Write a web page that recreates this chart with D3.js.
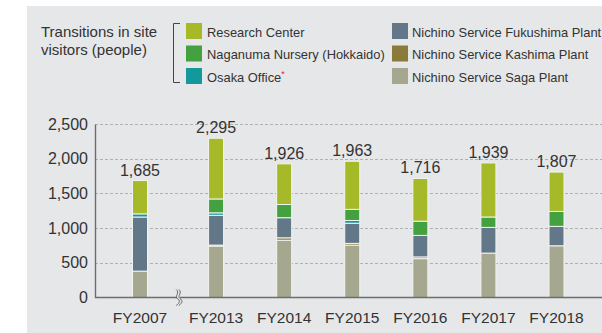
<!DOCTYPE html>
<html>
<head>
<meta charset="utf-8">
<script src="https://cdn.jsdelivr.net/npm/d3@7"></script>
<style>
  html, body { margin: 0; padding: 0; background: #fff; }
  svg { display: block; font-family: "Liberation Sans", Arial, Helvetica, sans-serif; }
</style>
</head>
<body>
<svg id="chart" width="602" height="333"></svg>
<script>
// Site visitors per fiscal year, stacked by site (bottom to top)
const categories = ["FY2007", "FY2013", "FY2014", "FY2015", "FY2016", "FY2017", "FY2018"];
const saga       = [380, 740, 825, 755, 560, 640, 745];
const kashima    = [0,   15,  35,  25,  25,  0,   0];
const fukushima  = [780, 430, 290, 290, 310, 370, 280];
const osaka      = [45,  35,  0,   40,  0,   0,   0];
const naganuma   = [0,   200, 190, 160, 205, 150, 215];
const research   = [480, 875, 586, 693, 616, 779, 567];
const yTicks     = [0, 500, 1000, 1500, 2000, 2500];

const seriesInfo = [
  { key: "saga",      name: "Nichino Service Saga Plant",      color: "#a5a88f", values: saga },
  { key: "kashima",   name: "Nichino Service Kashima Plant",   color: "#8a7b3a", values: kashima },
  { key: "fukushima", name: "Nichino Service Fukushima Plant", color: "#627889", values: fukushima },
  { key: "osaka",     name: "Osaka Office",                    color: "#13999b", values: osaka },
  { key: "naganuma",  name: "Naganuma Nursery (Hokkaido)",     color: "#43a13f", values: naganuma },
  { key: "research",  name: "Research Center",                 color: "#a6ba29", values: research }
];

const rows = categories.map((c, i) => {
  const r = { category: c };
  seriesInfo.forEach(s => { r[s.key] = s.values[i]; });
  return r;
});

const svg = d3.select("#chart");
const textColor = "#333";

// background panel
svg.append("rect").attr("x", 27).attr("y", 6).attr("width", 602 - 27).attr("height", 333 - 6)
  .attr("fill", "#e6e7e9");

// scales
const y = d3.scaleLinear().domain([0, 2500]).range([297.5, 124]);
const breakGap = 8; // extra space left of the axis break
const xp = d3.scalePoint().domain(categories).range([148, 556.5]);
const x = c => xp(c) - (c === categories[0] ? breakGap : 0);
const barW = 15;
const axisX = 95;

// gridlines
svg.append("g").selectAll("line").data(yTicks.filter(t => t > 0)).join("line")
  .attr("x1", axisX).attr("x2", 602)
  .attr("y1", d => Math.round(y(d)) + 0.5).attr("y2", d => Math.round(y(d)) + 0.5)
  .attr("stroke", "#b0b0b0").attr("stroke-width", 1).attr("stroke-dasharray", "3,2");

// y axis
const yAxis = d3.axisLeft(y).tickValues(yTicks).tickFormat(d3.format(",")).tickSize(0).tickPadding(7);
const yg = svg.append("g").attr("transform", `translate(${axisX},0)`).call(yAxis);
yg.select(".domain").attr("stroke", "#6d6d6d").attr("stroke-width", 1.4);
yg.selectAll("text").attr("font-size", 16).attr("fill", textColor)
  .attr("font-family", "Liberation Sans, Arial, sans-serif");

// stacked bars
const stack = d3.stack().keys(seriesInfo.map(s => s.key));
const stacked = stack(rows);
const colorOf = Object.fromEntries(seriesInfo.map(s => [s.key, s.color]));

const barsG = svg.append("g");
stacked.forEach(layer => {
  barsG.append("g").selectAll("rect")
    .data(layer.filter(d => d[1] - d[0] > 0))
    .join("rect")
    .attr("x", d => x(d.data.category) - barW / 2)
    .attr("width", barW)
    .attr("y", d => y(d[1]))
    .attr("height", d => y(d[0]) - y(d[1]))
    .attr("fill", colorOf[layer.key])
    .attr("stroke", "#f2f2f2").attr("stroke-width", 1);
});

// baseline
svg.append("line").attr("x1", axisX).attr("x2", 602).attr("y1", y(0)).attr("y2", y(0))
  .attr("stroke", "#6d6d6d").attr("stroke-width", 1.6);

// axis break marker
const bx = (x(categories[0]) + x(categories[1])) / 2 + 0.5;
const by = y(0);
const wave = dx => `M${bx + dx - 1},${by - 8} C${bx + dx + 3},${by - 5} ${bx + dx - 3},${by - 1} ${bx + dx},${by + 1} S${bx + dx + 3},${by + 5} ${bx + dx - 1},${by + 8}`;
svg.append("path")
  .attr("d", `M${bx - 1.5},${by - 2.5} L${bx + 1.5},${by - 2.5} L${bx + 1.5},${by + 2.5} L${bx - 1.5},${by + 2.5} Z`)
  .attr("fill", "#e6e7e9");
svg.append("path").attr("d", wave(-1.3)).attr("fill", "none").attr("stroke", "#555").attr("stroke-width", 0.9);
svg.append("path").attr("d", wave(1.3)).attr("fill", "none").attr("stroke", "#555").attr("stroke-width", 0.9);

// category labels
svg.append("g").selectAll("text").data(categories).join("text")
  .attr("x", d => x(d)).attr("y", 323)
  .attr("text-anchor", "middle").attr("font-size", 15.5).attr("fill", textColor)
  .text(d => d);

// total labels
const totals = rows.map(r => d3.sum(seriesInfo, s => r[s.key]));
svg.append("g").selectAll("text").data(categories).join("text")
  .attr("x", d => x(d)).attr("y", (d, i) => y(totals[i]) - 5)
  .attr("text-anchor", "middle").attr("font-size", 16).attr("fill", textColor)
  .text((d, i) => d3.format(",")(totals[i]));

// legend title
const title = svg.append("text").attr("x", 41).attr("y", 37).attr("font-size", 15).attr("fill", textColor);
title.append("tspan").attr("x", 41).text("Transitions in site");
title.append("tspan").attr("x", 41).attr("dy", 18).text("visitors (people)");

// legend bracket
svg.append("path").attr("d", "M180,23.5 L173.5,23.5 L173.5,82.5 L180,82.5")
  .attr("fill", "none").attr("stroke", "#444").attr("stroke-width", 1);

// legend entries
const legendOrder = [
  { s: "research", col: 0, row: 0 }, { s: "naganuma", col: 0, row: 1 }, { s: "osaka", col: 0, row: 2 },
  { s: "fukushima", col: 1, row: 0 }, { s: "kashima", col: 1, row: 1 }, { s: "saga", col: 1, row: 2 }
];
const colX = [186, 392];
const lg = svg.append("g").selectAll("g").data(legendOrder).join("g")
  .attr("transform", d => `translate(${colX[d.col]},${23 + d.row * 22.5})`);
lg.append("rect").attr("width", 16).attr("height", 16)
  .attr("fill", d => colorOf[d.s]);
const lt = lg.append("text").attr("x", d => d.col === 0 ? 21 : 20).attr("y", 13.5)
  .attr("font-size", 12.9).attr("fill", textColor)
  .text(d => seriesInfo.find(s => s.key === d.s).name);
lt.filter(d => d.s === "osaka").append("tspan")
  .attr("dy", -5).attr("font-size", 9).attr("fill", "#e3262f").text("*");
</script>
</body>
</html>
